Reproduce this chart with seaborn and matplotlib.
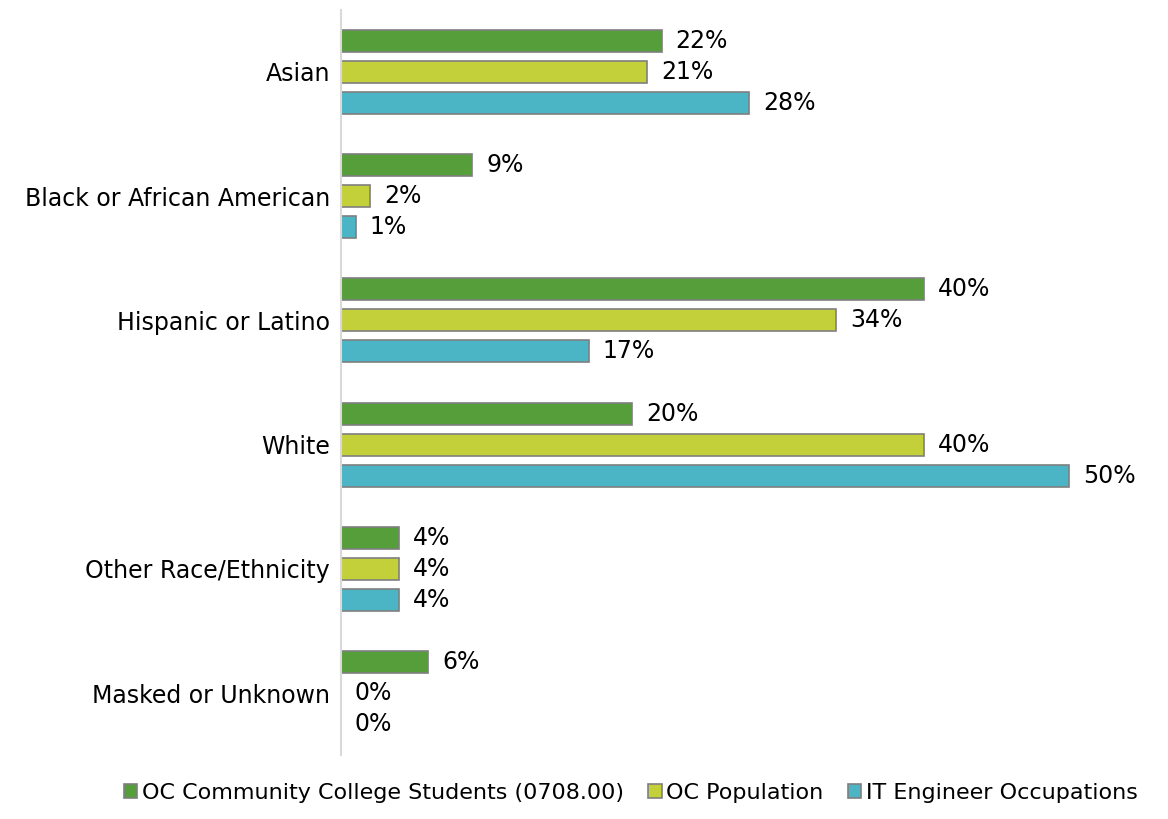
import pandas as pd
import matplotlib
matplotlib.use("Agg")
import matplotlib.pyplot as plt
import seaborn as sns

# -------------------------------
# Data
# -------------------------------
categories = ["Asian", "Black or African American", "Hispanic or Latino",
              "White", "Other Race/Ethnicity", "Masked or Unknown"]
series = ["OC Community College Students (0708.00)", "OC Population",
          "IT Engineer Occupations"]
students = [0.22, 0.09, 0.40, 0.20, 0.04, 0.06]
population = [0.21, 0.02, 0.34, 0.40, 0.04, 0.00]
it_jobs = [0.28, 0.01, 0.17, 0.50, 0.04, 0.00]

colors = ["#559E3A", "#C3D03A", "#4BB5C6"]

df = pd.DataFrame({
    "Category": categories * 3,
    "Group": [series[0]] * 6 + [series[1]] * 6 + [series[2]] * 6,
    "Share": students + population + it_jobs,
})

# -------------------------------
# Plot
# -------------------------------
sns.set_style("white")
plt.rcParams["font.family"] = ["DejaVu Sans"]

fig = plt.figure(figsize=(11.68, 8.19), dpi=100)
ax = fig.add_axes([0.292, 0.078, 0.686, 0.910])

sns.barplot(data=df, y="Category", x="Share", hue="Group", order=categories,
            hue_order=series, palette=colors, saturation=1, orient="h",
            width=0.75, gap=0.29, edgecolor="#7F7F7F", linewidth=1.2, ax=ax,
            legend=True)

for cont in ax.containers:
    ax.bar_label(cont, labels=[f"{v * 100:.0f}%" for v in cont.datavalues],
                 padding=10, fontsize=17, color="#000000")

ax.set_xlim(0, 0.55)
ax.set_ylim(5.5, -0.5)
ax.set_xlabel("")
ax.set_ylabel("")
ax.set_xticks([])
ax.tick_params(axis="y", labelsize=17, length=0, pad=8, labelcolor="#000000")
for s in ["top", "right", "bottom"]:
    ax.spines[s].set_visible(False)
ax.spines["left"].set_color("#D9D9D9")
ax.spines["left"].set_linewidth(1.5)

handles, labels = ax.get_legend_handles_labels()
ax.get_legend().remove()
leg = fig.legend(handles, labels, loc="lower center",
                 bbox_to_anchor=(0.54, -0.005), ncol=3, frameon=False,
                 fontsize=16, handlelength=0.6, handleheight=0.6,
                 handletextpad=0.2, columnspacing=1.1)
for t in leg.get_texts():
    t.set_color("#000000")

plt.savefig("out.png", dpi=100)
